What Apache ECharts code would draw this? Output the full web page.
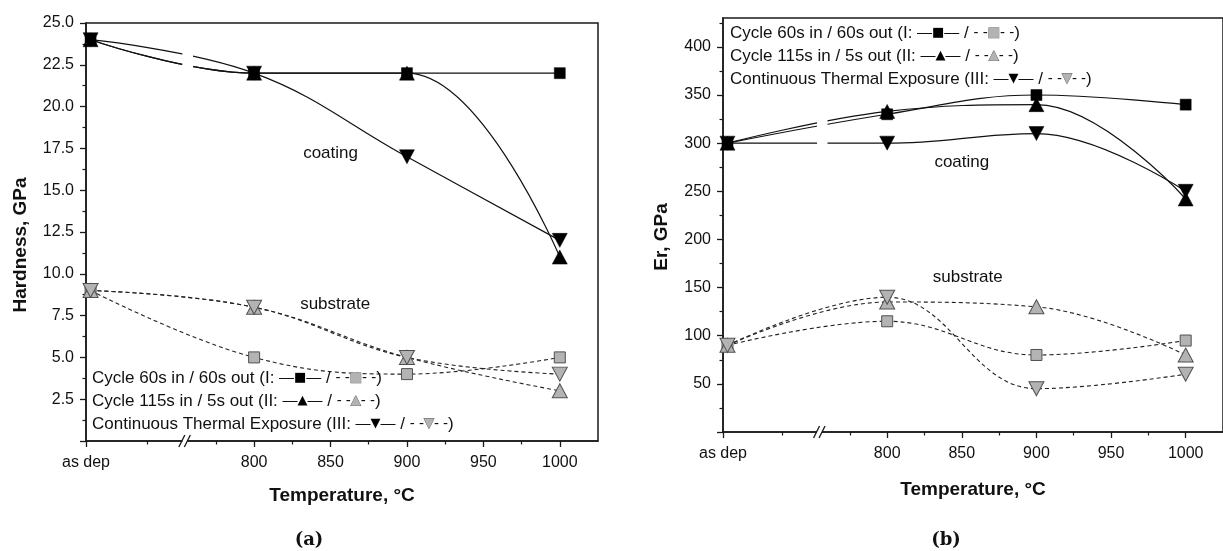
<!DOCTYPE html>
<html><head><meta charset="utf-8">
<script src="https://cdn.jsdelivr.net/npm/echarts@6/dist/echarts.min.js"></script>
<style>html,body{margin:0;padding:0;background:#fff}#c{width:1223px;height:551px}</style>
</head><body><div id="c"></div>
<script>
// ---------- data ----------
const temps = ['as dep', 800, 900, 1000];
const AS_DEP_X = 693;          // x position used for the "as dep" state on the broken axis
const BREAK_X = 755;           // axis break position

// Hardness, GPa  (panel a)
const hardCoatI   = [24, 22, 22, 22];
const hardCoatII  = [24, 22, 22, 11];
const hardCoatIII = [24, 22, 17, 12];
const hardSubI    = [9, 5, 4, 5];
const hardSubII   = [9, 8, 5, 3];
const hardSubIII  = [9, 8, 5, 4];

// Er, GPa  (panel b)
const erCoatI   = [300, 330, 350, 340];
const erCoatII  = [300, 333, 340, 242];
const erCoatIII = [300, 300, 310, 250];
const erSubI    = [90, 115, 80, 95];
const erSubII   = [90, 135, 130, 80];
const erSubIII  = [90, 140, 45, 60];

// axes / tick labels
const xLabelValues = [690, 800, 850, 900, 950, 1000];
const xTickLabels  = ['as dep', '800', '850', '900', '950', '1000'];
const xMinorTicks  = [730, 775, 825, 875, 925, 975];
const hardTicks    = [0, 2.5, 5, 7.5, 10, 12.5, 15, 17.5, 20, 22.5, 25];
const erLabelTicks = [50, 100, 150, 200, 250, 300, 350, 400];
const erMajorTicks = [0, 50, 100, 150, 200, 250, 300, 350, 400];
const erMinorTicks = [25, 75, 125, 175, 225, 275, 325, 375, 425];

const legendLabels = ['Cycle 60s in / 60s out', 'Cycle 115s in / 5s out', 'Continuous Thermal Exposure'];
const legendRoman  = ['I', 'II', 'III'];
const xTitle = 'Temperature, °C';
const yTitles = ['Hardness, GPa', 'Er, GPa'];
const panelLabels = ['(a)', '(b)'];
const annotations = [
  {panel: 0, text: 'coating',   x: 850, y: 17.2},
  {panel: 0, text: 'substrate', x: 853, y: 8.2},
  {panel: 1, text: 'coating',   x: 850, y: 280},
  {panel: 1, text: 'substrate', x: 854, y: 161}
];

// ---------- style ----------
const FONT = '"Liberation Sans", Arial, sans-serif';
const AX = '#1a1a1a';
const GRAY = '#b3b3b3';
const GRAY_B = '#505050';

function pts(vals) { return temps.map((t, i) => [t === 'as dep' ? AS_DEP_X : t, vals[i]]); }

const SHAPES = {
  sq: {symbol: 'rect', size: [11, 11], rot: 0},
  up: {symbol: 'triangle', size: [15, 14], rot: 0},
  dn: {symbol: 'triangle', size: [15, 14], rot: 180}
};

function mkSeries(name, vals, panel, coat, shape) {
  const s = SHAPES[shape];
  return {
    name, type: 'line', data: pts(vals),
    xAxisIndex: panel === 0 ? 0 : 2, yAxisIndex: panel === 0 ? 0 : 1,
    smooth: 0.4, symbol: s.symbol, symbolSize: s.size, symbolRotate: s.rot,
    showAllSymbol: true, z: coat ? 4 : 3,
    lineStyle: coat ? {color: '#111', width: 1.2, type: 'solid'}
                    : {color: '#222', width: 1.1, type: [4, 3]},
    itemStyle: coat ? {color: '#000', borderColor: '#000', borderWidth: 0.5}
                    : {color: GRAY, borderColor: GRAY_B, borderWidth: 1},
    emphasis: {disabled: true}, animation: false
  };
}

const labelStyle = {fontFamily: FONT, fontSize: 16, color: '#111'};

function xMajor(grid, gap) {
  return {
    type: 'value', gridIndex: grid, min: 690, max: 1025, position: 'bottom',
    name: xTitle, nameLocation: 'middle', nameGap: gap,
    nameTextStyle: {fontFamily: FONT, fontSize: 19, fontWeight: 'bold', color: '#111'},
    axisLine: {show: true, onZero: false, lineStyle: {color: AX, width: 1.5}},
    axisTick: {show: true, inside: false, length: 6, lineStyle: {color: AX, width: 1.3}, customValues: xLabelValues},
    axisLabel: Object.assign({show: true, margin: 14, customValues: xLabelValues, showMinLabel: true, showMaxLabel: true,
      formatter: v => { const i = xLabelValues.indexOf(v); return i >= 0 ? xTickLabels[i] : ''; }}, labelStyle),
    splitLine: {show: false}
  };
}
function xMinor(grid) {
  return {
    type: 'value', gridIndex: grid, min: 690, max: 1025, position: 'bottom',
    axisLine: {show: false, onZero: false},
    axisTick: {show: true, inside: false, length: 3.5, lineStyle: {color: AX, width: 1.2}, customValues: xMinorTicks},
    axisLabel: {show: false}, splitLine: {show: false}
  };
}

const option = {
  backgroundColor: '#fff',
  animation: false,
  grid: [
    {left: 86, top: 23, width: 512, height: 418, show: true, borderColor: AX, borderWidth: 1.5, backgroundColor: 'transparent'},
    {left: 723, top: 18, width: 509, height: 414, show: true, borderColor: AX, borderWidth: 1.5, backgroundColor: 'transparent'}
  ],
  xAxis: [xMajor(0, 45), xMinor(0), xMajor(1, 48), xMinor(1)],
  yAxis: [
    {
      type: 'value', gridIndex: 0, min: 0, max: 25, interval: 2.5, position: 'left',
      axisLine: {show: true, onZero: false, lineStyle: {color: AX, width: 1.5}},
      axisTick: {show: true, inside: false, length: 6, lineStyle: {color: AX, width: 1.3}},
      minorTick: {show: true, splitNumber: 2, length: 3.5, lineStyle: {color: AX, width: 1.2}},
      axisLabel: Object.assign({margin: 12, formatter: v => (v === 0 ? '' : v.toFixed(1))}, labelStyle),
      splitLine: {show: false}, minorSplitLine: {show: false}
    },
    {
      type: 'value', gridIndex: 1, min: 0, max: 430, position: 'left',
      axisLine: {show: true, onZero: false, lineStyle: {color: AX, width: 1.5}},
      axisTick: {show: true, inside: false, length: 6, lineStyle: {color: AX, width: 1.3}, customValues: erMajorTicks},
      axisLabel: Object.assign({margin: 12, customValues: erLabelTicks}, labelStyle),
      splitLine: {show: false}
    },
    {
      type: 'value', gridIndex: 1, min: 0, max: 430, position: 'left', offset: 0,
      axisLine: {show: false, onZero: false},
      axisTick: {show: true, inside: false, length: 3.5, lineStyle: {color: AX, width: 1.2}, customValues: erMinorTicks},
      axisLabel: {show: false}, splitLine: {show: false}
    }
  ],
  series: [
    mkSeries('a sub I', hardSubI, 0, false, 'sq'),
    mkSeries('a sub II', hardSubII, 0, false, 'up'),
    mkSeries('a sub III', hardSubIII, 0, false, 'dn'),
    mkSeries('a coat I', hardCoatI, 0, true, 'sq'),
    mkSeries('a coat II', hardCoatII, 0, true, 'up'),
    mkSeries('a coat III', hardCoatIII, 0, true, 'dn'),
    mkSeries('b sub I', erSubI, 1, false, 'sq'),
    mkSeries('b sub II', erSubII, 1, false, 'up'),
    mkSeries('b sub III', erSubIII, 1, false, 'dn'),
    mkSeries('b coat I', erCoatI, 1, true, 'sq'),
    mkSeries('b coat II', erCoatII, 1, true, 'up'),
    mkSeries('b coat III', erCoatIII, 1, true, 'dn')
  ]
};

const chart = echarts.init(document.getElementById('c'), null, {renderer: 'canvas'});
chart.setOption(option);

// ---------- overlays placed through the chart's own scales ----------
const px = (panel, x, y) => chart.convertToPixel({seriesIndex: panel === 0 ? 0 : 6}, [x, y]);
const g = [];

// gaps in the solid coating curves at the axis break
[[0, 21.4, 24.3], [1, 288, 330]].forEach(([p, y0, y1]) => {
  const a = px(p, BREAK_X - 2, y1), b = px(p, BREAK_X + 5, y0);
  g.push({type: 'rect', z: 50, shape: {x: a[0], y: a[1], width: b[0] - a[0], height: b[1] - a[1]}, style: {fill: '#fff'}});
});

// break marks on the x axis
[0, 1].forEach(p => {
  const c = px(p, BREAK_X, 0);
  g.push({type: 'rect', z: 60, shape: {x: c[0] - 3, y: c[1] - 1.5, width: 5, height: 3}, style: {fill: '#fff'}});
  [-3.5, 2].forEach(dx => {
    g.push({type: 'line', z: 61, shape: {x1: c[0] + dx - 3, y1: c[1] + 6, x2: c[0] + dx + 3, y2: c[1] - 6},
      style: {stroke: AX, lineWidth: 1.3}});
  });
});

// legend blocks (text with inline line/marker glyphs)
const glyphs = ['■', '▲', '▼'];
function legendBlock(x, ys) {
  ys.forEach((y, i) => {
    g.push({
      type: 'text', z: 100, x, y,
      style: {
        text: legendLabels[i] + ' (' + legendRoman[i] + ': {ln|—}{b|' + glyphs[i] + '}{ln|—} / {dl|- -}{g|' + glyphs[i] + '}{dl|- -})',
        font: '17px ' + FONT, fill: '#111', align: 'left', verticalAlign: 'middle',
        rich: {
          ln: {fontSize: 15, fill: '#111', fontFamily: FONT},
          dl: {fontSize: 15, fill: '#111', fontFamily: FONT},
          b: {fontSize: i === 0 ? 13 : 13, fill: '#000', fontFamily: '"DejaVu Sans", sans-serif'},
          g: {fontSize: i === 0 ? 13 : 13, fill: GRAY, stroke: GRAY_B, lineWidth: 0.8, fontFamily: '"DejaVu Sans", sans-serif'}
        }
      }
    });
  });
}
legendBlock(92, [378, 401, 424]);
legendBlock(730, [33, 56, 79]);

// in-plot annotations
annotations.forEach(a => {
  const c = px(a.panel, a.x, a.y);
  g.push({type: 'text', z: 100, x: c[0], y: c[1],
    style: {text: a.text, font: '17px ' + FONT, fill: '#111', align: 'center', verticalAlign: 'middle'}});
});

// y axis titles
[[21, 245], [662, 237]].forEach(([x, y], i) => {
  g.push({type: 'text', z: 100, x, y, rotation: Math.PI / 2,
    style: {text: yTitles[i], font: 'bold 19px ' + FONT, fill: '#111', align: 'center', verticalAlign: 'middle'}});
});

// panel labels
[[309, 540], [946, 540]].forEach(([x, y], i) => {
  g.push({type: 'text', z: 100, x, y,
    style: {text: panelLabels[i], font: 'bold 18px "DejaVu Serif", serif', fill: '#111', align: 'center', verticalAlign: 'middle'}});
});

chart.setOption({graphic: g});
</script>
</body></html>
